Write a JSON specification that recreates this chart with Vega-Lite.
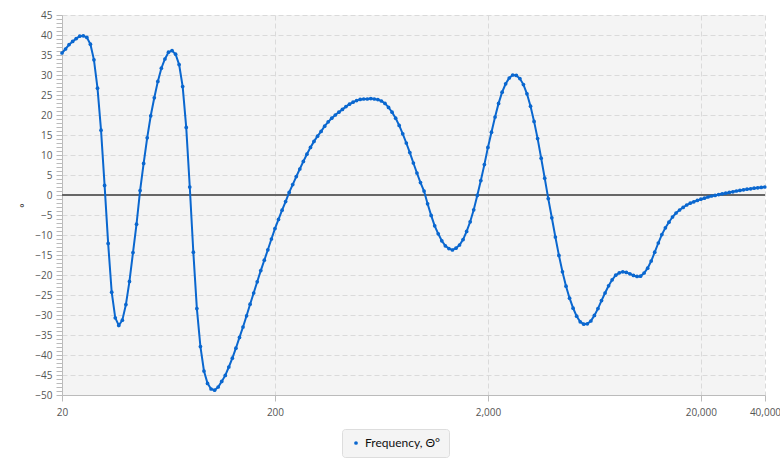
{
  "$schema": "https://vega.github.io/schema/vega-lite/v6.json",
  "width": 703,
  "height": 380,
  "autosize": {"type": "none"},
  "padding": {"left": 62, "top": 15, "right": 15, "bottom": 68},
  "background": "#ffffff",
  "config": {
    "view": {"fill": "#f4f4f4", "stroke": null},
    "font": "Open Sans",
    "axis": {
      "labelFont": "Open Sans",
      "labelFontSize": 10,
      "labelColor": "#555555",
      "domainColor": "#bbbbbb",
      "tickColor": "#bbbbbb",
      "tickSize": 6,
      "gridColor": "#dadada",
      "gridDash": [5, 3],
      "gridWidth": 1
    }
  },
  "data": {
    "values": [
      {"f": 20, "v": 35.5}, {"f": 20.78, "v": 36.5}, {"f": 21.6, "v": 37.6}, {"f": 22.44, "v": 38.4},
      {"f": 23.32, "v": 39.1}, {"f": 24.23, "v": 39.7}, {"f": 25.18, "v": 39.8}, {"f": 26.16, "v": 39.4},
      {"f": 27.19, "v": 37.7}, {"f": 28.25, "v": 33.8}, {"f": 29.36, "v": 26.7}, {"f": 30.5, "v": 16.2},
      {"f": 31.7, "v": 2.4}, {"f": 32.94, "v": -12.1}, {"f": 34.23, "v": -24.3}, {"f": 35.57, "v": -30.7},
      {"f": 36.96, "v": -32.6}, {"f": 38.4, "v": -31.3}, {"f": 39.91, "v": -27.4}, {"f": 41.47, "v": -21.6},
      {"f": 43.09, "v": -14.4}, {"f": 44.77, "v": -7.3}, {"f": 46.53, "v": 1.1}, {"f": 48.35, "v": 7.9},
      {"f": 50.24, "v": 14.3}, {"f": 52.2, "v": 19.8}, {"f": 54.25, "v": 24.3}, {"f": 56.37, "v": 28.4},
      {"f": 58.57, "v": 31.7}, {"f": 60.86, "v": 34}, {"f": 63.25, "v": 35.7}, {"f": 65.72, "v": 36.1},
      {"f": 68.29, "v": 35.2}, {"f": 70.96, "v": 32.6}, {"f": 73.74, "v": 27.1}, {"f": 76.62, "v": 16.9},
      {"f": 79.62, "v": 2}, {"f": 82.74, "v": -14.3}, {"f": 85.97, "v": -28.4}, {"f": 89.34, "v": -37.9},
      {"f": 92.83, "v": -44}, {"f": 96.46, "v": -47.1}, {"f": 100.24, "v": -48.5}, {"f": 104.16, "v": -48.8},
      {"f": 108.23, "v": -48}, {"f": 112.47, "v": -46.6}, {"f": 116.87, "v": -45.1}, {"f": 121.44, "v": -43},
      {"f": 126.19, "v": -40.8}, {"f": 131.13, "v": -38.3}, {"f": 136.26, "v": -35.6}, {"f": 141.59, "v": -33},
      {"f": 147.13, "v": -30.2}, {"f": 152.88, "v": -27.3}, {"f": 158.87, "v": -24.5}, {"f": 165.08, "v": -21.7},
      {"f": 171.54, "v": -18.9}, {"f": 178.25, "v": -16.3}, {"f": 185.22, "v": -13.7}, {"f": 192.47, "v": -11},
      {"f": 200, "v": -8.4}, {"f": 207.8, "v": -6.1}, {"f": 216, "v": -3.8}, {"f": 224.4, "v": -1.65},
      {"f": 233.2, "v": 0.65}, {"f": 242.3, "v": 2.6}, {"f": 251.8, "v": 4.6}, {"f": 261.6, "v": 6.5},
      {"f": 271.9, "v": 8.4}, {"f": 282.5, "v": 10.2}, {"f": 293.6, "v": 11.9}, {"f": 305, "v": 13.4},
      {"f": 317, "v": 14.7}, {"f": 329.4, "v": 15.9}, {"f": 342.3, "v": 17.2}, {"f": 355.7, "v": 18.3},
      {"f": 369.6, "v": 19.2}, {"f": 384, "v": 20}, {"f": 399.1, "v": 20.7}, {"f": 414.7, "v": 21.4},
      {"f": 430.9, "v": 22.1}, {"f": 447.7, "v": 22.7}, {"f": 465.3, "v": 23.2}, {"f": 483.5, "v": 23.6},
      {"f": 502.4, "v": 23.9}, {"f": 522, "v": 24}, {"f": 542.5, "v": 24}, {"f": 563.7, "v": 24.1},
      {"f": 585.7, "v": 24}, {"f": 608.6, "v": 23.85}, {"f": 632.5, "v": 23.5}, {"f": 657.2, "v": 22.9},
      {"f": 682.9, "v": 21.9}, {"f": 709.6, "v": 20.7}, {"f": 737.4, "v": 19.2}, {"f": 766.2, "v": 17.4},
      {"f": 796.2, "v": 15.3}, {"f": 827.4, "v": 13}, {"f": 859.7, "v": 10.6}, {"f": 893.4, "v": 8},
      {"f": 928.3, "v": 5.5}, {"f": 964.6, "v": 3.1}, {"f": 1002.4, "v": 1}, {"f": 1041.6, "v": -2.2},
      {"f": 1082.3, "v": -5.1}, {"f": 1124.7, "v": -7.7}, {"f": 1168.7, "v": -9.7}, {"f": 1214.4, "v": -11.45},
      {"f": 1261.9, "v": -12.7}, {"f": 1311.3, "v": -13.4}, {"f": 1362.6, "v": -13.75}, {"f": 1415.9, "v": -13.3},
      {"f": 1471.3, "v": -12.5}, {"f": 1528.8, "v": -11.15}, {"f": 1588.7, "v": -9.1}, {"f": 1650.8, "v": -6.7},
      {"f": 1715.4, "v": -3.7}, {"f": 1782.5, "v": -0.1}, {"f": 1852.2, "v": 3.6}, {"f": 1924.7, "v": 7.6},
      {"f": 2000, "v": 11.9}, {"f": 2078, "v": 15.7}, {"f": 2160, "v": 19.5}, {"f": 2244, "v": 22.9},
      {"f": 2332, "v": 25.7}, {"f": 2423, "v": 27.8}, {"f": 2518, "v": 29.25}, {"f": 2616, "v": 30},
      {"f": 2719, "v": 29.9}, {"f": 2825, "v": 29.1}, {"f": 2936, "v": 27.6}, {"f": 3050, "v": 25.3},
      {"f": 3170, "v": 22.2}, {"f": 3294, "v": 18.4}, {"f": 3423, "v": 14.1}, {"f": 3557, "v": 9.2},
      {"f": 3696, "v": 4.2}, {"f": 3840, "v": -0.9}, {"f": 3991, "v": -5.7}, {"f": 4147, "v": -10.5},
      {"f": 4309, "v": -15.1}, {"f": 4477, "v": -19.2}, {"f": 4653, "v": -22.8}, {"f": 4835, "v": -25.8},
      {"f": 5024, "v": -28.3}, {"f": 5220, "v": -30.3}, {"f": 5425, "v": -31.7}, {"f": 5637, "v": -32.3},
      {"f": 5857, "v": -32.2}, {"f": 6086, "v": -31.5}, {"f": 6325, "v": -30.1}, {"f": 6572, "v": -28.4},
      {"f": 6829, "v": -26.4}, {"f": 7096, "v": -24.5}, {"f": 7374, "v": -22.7}, {"f": 7662, "v": -21.2},
      {"f": 7962, "v": -20.05}, {"f": 8274, "v": -19.45}, {"f": 8597, "v": -19.2}, {"f": 8934, "v": -19.35},
      {"f": 9283, "v": -19.7}, {"f": 9646, "v": -20.1}, {"f": 10024, "v": -20.35}, {"f": 10416, "v": -20.3},
      {"f": 10823, "v": -19.5}, {"f": 11247, "v": -18.3}, {"f": 11687, "v": -16.5}, {"f": 12144, "v": -14.3},
      {"f": 12619, "v": -12}, {"f": 13113, "v": -9.9}, {"f": 13626, "v": -8.2}, {"f": 14159, "v": -6.8},
      {"f": 14713, "v": -5.5}, {"f": 15288, "v": -4.5}, {"f": 15887, "v": -3.75}, {"f": 16508, "v": -3.1},
      {"f": 17154, "v": -2.5}, {"f": 17825, "v": -2.05}, {"f": 18522, "v": -1.7}, {"f": 19247, "v": -1.35},
      {"f": 20000, "v": -1.05}, {"f": 20782, "v": -0.8}, {"f": 21596, "v": -0.5}, {"f": 22440, "v": -0.25},
      {"f": 23318, "v": -0.1}, {"f": 24230, "v": 0.1}, {"f": 25178, "v": 0.3}, {"f": 26164, "v": 0.45},
      {"f": 27188, "v": 0.65}, {"f": 28250, "v": 0.8}, {"f": 29356, "v": 1}, {"f": 30504, "v": 1.15},
      {"f": 31698, "v": 1.3}, {"f": 32938, "v": 1.45}, {"f": 34226, "v": 1.55}, {"f": 35566, "v": 1.7},
      {"f": 36956, "v": 1.8}, {"f": 38402, "v": 1.9}, {"f": 39906, "v": 2.0}
    ]
  },
  "encoding": {
    "x": {
      "field": "f",
      "type": "quantitative",
      "scale": {"type": "log", "domain": [20, 40000], "nice": false},
      "axis": {
        "title": null,
        "values": [20, 200, 2000, 20000, 40000],
        "format": ",",
        "labelOverlap": false,
        "labelFlush": false,
        "labelBound": false,
        "labelPadding": 6,
        "grid": true
      }
    },
    "y": {
      "field": "v",
      "type": "quantitative",
      "scale": {"domain": [-50, 45], "nice": false, "zero": false},
      "axis": {
        "title": "°",
        "titleFont": "Open Sans",
        "titleFontSize": 10,
        "titleFontWeight": "normal",
        "titleColor": "#222222",
        "titlePadding": 5,
        "values": [-50,-49,-48,-47,-46,-45,-44,-43,-42,-41,-40,-39,-38,-37,-36,-35,-34,-33,-32,-31,-30,-29,-28,-27,-26,-25,-24,-23,-22,-21,-20,-19,-18,-17,-16,-15,-14,-13,-12,-11,-10,-9,-8,-7,-6,-5,-4,-3,-2,-1,0,1,2,3,4,5,6,7,8,9,10,11,12,13,14,15,16,17,18,19,20,21,22,23,24,25,26,27,28,29,30,31,32,33,34,35,36,37,38,39,40,41,42,43,44,45],
        "labelExpr": "datum.value % 5 === 0 ? datum.label : ''",
        "labelOverlap": false,
        "labelFlush": false,
        "labelPadding": 4,
        "gridOpacity": {"condition": {"test": "datum.value % 5 === 0", "value": 1}, "value": 0}
      }
    }
  },
  "layer": [
    {
      "mark": {"type": "rule", "color": "#666666", "strokeWidth": 1},
      "encoding": {"y": {"datum": 0}, "x": null}
    },
    {
      "mark": {
        "type": "line",
        "strokeWidth": 2,
        "point": {"filled": true, "size": 14}
      },
      "encoding": {
        "color": {
          "datum": "Frequency, Θ°",
          "type": "nominal",
          "scale": {"range": ["#0a67cf"]},
          "legend": {
            "title": null,
            "orient": "none",
            "legendX": 280,
            "legendY": 414,
            "symbolType": "circle",
            "symbolSize": 14,
            "symbolFillColor": "#0a67cf",
            "symbolStrokeWidth": 0,
            "labelFont": "Lato",
            "labelFontSize": 12,
            "labelColor": "#111111",
            "labelOffset": 3,
            "padding": 8,
            "fillColor": "#f4f4f4",
            "strokeColor": "#dddddd",
            "cornerRadius": 3
          }
        }
      }
    }
  ]
}
